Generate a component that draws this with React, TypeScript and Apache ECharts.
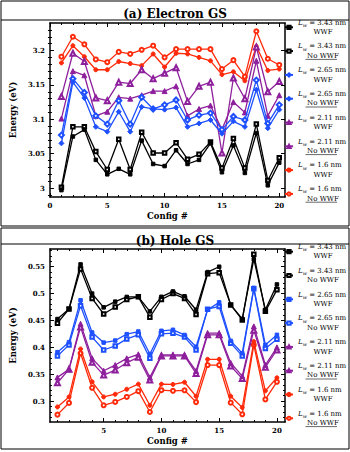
import React, { useEffect, useRef } from "react";
import * as echarts from "echarts";

const FONT = '"DejaVu Serif", serif';

const configs = [1, 2, 3, 4, 5, 6, 7, 8, 9, 10, 11, 12, 13, 14, 15, 16, 17, 18, 19, 20];

// (a) Electron GS
const e343WWF = [2.997, 3.075, 3.085, 3.041, 3.02, 3.028, 3.02, 3.069, 3.035, 3.032, 3.055, 3.035, 3.041, 3.065, 3.023, 3.062, 3.022, 3.08, 3.004, 3.037];
const e343No = [3.001, 3.089, 3.089, 3.053, 3.027, 3.071, 3.027, 3.081, 3.051, 3.051, 3.066, 3.042, 3.049, 3.067, 3.029, 3.072, 3.029, 3.093, 3.011, 3.044];
const e265WWF = [3.065, 3.154, 3.131, 3.089, 3.082, 3.111, 3.082, 3.118, 3.115, 3.114, 3.117, 3.089, 3.094, 3.099, 3.079, 3.097, 3.089, 3.143, 3.087, 3.114];
const e265No = [3.077, 3.159, 3.139, 3.105, 3.093, 3.127, 3.093, 3.132, 3.115, 3.121, 3.128, 3.099, 3.106, 3.109, 3.085, 3.104, 3.099, 3.157, 3.094, 3.121];
const e211WWF = [3.101, 3.17, 3.164, 3.105, 3.111, 3.132, 3.13, 3.135, 3.141, 3.141, 3.148, 3.105, 3.115, 3.12, 3.085, 3.125, 3.11, 3.185, 3.105, 3.135];
const e211No = [3.133, 3.196, 3.184, 3.131, 3.127, 3.154, 3.152, 3.172, 3.159, 3.167, 3.175, 3.126, 3.148, 3.154, 3.051, 3.16, 3.13, 3.205, 3.14, 3.155];
const e16WWF = [3.182, 3.207, 3.191, 3.172, 3.172, 3.184, 3.181, 3.178, 3.195, 3.176, 3.196, 3.195, 3.19, 3.185, 3.165, 3.169, 3.156, 3.206, 3.171, 3.173];
const e16No = [3.191, 3.22, 3.209, 3.187, 3.183, 3.198, 3.195, 3.201, 3.207, 3.19, 3.202, 3.202, 3.202, 3.202, 3.173, 3.186, 3.162, 3.228, 3.188, 3.179];

// (b) Hole GS
const h343WWF = [0.4526, 0.4713, 0.5543, 0.5, 0.4744, 0.485, 0.4938, 0.4938, 0.4669, 0.494, 0.504, 0.495, 0.47, 0.54, 0.55, 0.479, 0.453, 0.564, 0.47, 0.517];
const h343No = [0.445, 0.4713, 0.546, 0.491, 0.462, 0.475, 0.489, 0.494, 0.456, 0.489, 0.5, 0.491, 0.461, 0.537, 0.539, 0.479, 0.451, 0.573, 0.467, 0.507];
const h265WWF = [0.391, 0.4096, 0.4875, 0.4276, 0.4088, 0.4126, 0.4245, 0.4294, 0.3876, 0.4307, 0.4326, 0.423, 0.401, 0.47, 0.4837, 0.412, 0.389, 0.5107, 0.4045, 0.4232];
const h265No = [0.384, 0.4045, 0.4775, 0.419, 0.395, 0.4026, 0.4157, 0.4232, 0.3795, 0.4251, 0.4264, 0.419, 0.395, 0.471, 0.476, 0.4077, 0.384, 0.509, 0.398, 0.415];
const h211WWF = [0.344, 0.359, 0.4438, 0.3795, 0.3564, 0.367, 0.3795, 0.387, 0.344, 0.3858, 0.386, 0.386, 0.356, 0.4264, 0.4264, 0.371, 0.3464, 0.439, 0.367, 0.4];
const h211No = [0.334, 0.359, 0.4376, 0.372, 0.3483, 0.3577, 0.3714, 0.3814, 0.339, 0.384, 0.384, 0.384, 0.3515, 0.4232, 0.4232, 0.365, 0.342, 0.432, 0.363, 0.395];
const h16WWF = [0.289, 0.3077, 0.397, 0.3358, 0.3077, 0.3127, 0.322, 0.3315, 0.2921, 0.3315, 0.331, 0.335, 0.309, 0.3777, 0.3777, 0.309, 0.288, 0.4107, 0.319, 0.3433];
const h16No = [0.2747, 0.2965, 0.389, 0.3246, 0.2921, 0.2983, 0.3077, 0.3184, 0.2796, 0.3202, 0.319, 0.32, 0.298, 0.367, 0.367, 0.297, 0.2753, 0.4045, 0.303, 0.3358];

// axis ticks
const xMajorA = [0, 5, 10, 15, 20];
const xMajorB = [5, 10, 15, 20];
const xMinor = [1, 2, 3, 4, 6, 7, 8, 9, 11, 12, 13, 14, 16, 17, 18, 19];
const yMajorA = [3.0, 3.05, 3.1, 3.15, 3.2];
const yMinorA = [2.99, 3.01, 3.02, 3.03, 3.04, 3.06, 3.07, 3.08, 3.09, 3.11, 3.12, 3.13, 3.14, 3.16, 3.17, 3.18, 3.19, 3.21, 3.22, 3.23];
const yMajorB = [0.3, 0.35, 0.4, 0.45, 0.5, 0.55];
const yMinorB = [0.27, 0.28, 0.29, 0.31, 0.32, 0.33, 0.34, 0.36, 0.37, 0.38, 0.39, 0.41, 0.42, 0.43, 0.44, 0.46, 0.47, 0.48, 0.49, 0.51, 0.52, 0.53, 0.54, 0.56, 0.57, 0.58];

const lwLabels = ["3.43", "3.43", "2.65", "2.65", "2.11", "2.11", "1.6", "1.6"];
const wwfLabels = ["WWF", "No WWF", "WWF", "No WWF", "WWF", "No WWF", "WWF", "No WWF"];
const underlinedA = [false, true, false, true, false, true, false, true];
const underlinedB = [false, false, false, false, false, true, false, true];
const colors = ["#000000", "#000000", "#1e50ff", "#1e50ff", "#8e1f9c", "#8e1f9c", "#ff2a0a", "#ff2a0a"];
const symbolsA = ["rect", "emptyRect", "diamond", "emptyDiamond", "triangle", "emptyTriangle", "circle", "emptyCircle"];
const symbolsB = ["rect", "emptyRect", "rect", "emptyRect", "triangle", "emptyTriangle", "circle", "emptyCircle"];

const elecSets = [e343WWF, e343No, e265WWF, e265No, e211WWF, e211No, e16WWF, e16No];
const holeSets = [h343WWF, h343No, h265WWF, h265No, h211WWF, h211No, h16WWF, h16No];

const fmt = (v: number) => String(Number(v.toFixed(2)));

function axesFor(gi: number, min: number, max: number, major: number[], minor: number[], dim: "x" | "y", name: string) {
  const tickLabel = {
    color: "#000",
    fontFamily: FONT,
    fontWeight: "bold" as const,
    fontSize: 7,
  };
  const base = {
    gridIndex: gi,
    type: "value" as const,
    min,
    max,
    splitLine: { show: false },
    axisLine: { show: true, onZero: false, lineStyle: { color: "#000", width: 1.5 } },
  };
  const p1 = dim === "x" ? "bottom" : "left";
  const p2 = dim === "x" ? "top" : "right";
  return [
    {
      ...base,
      position: p1,
      axisTick: { show: true, inside: true, length: 4, customValues: major, lineStyle: { color: "#000", width: 1 } },
      axisLabel: { show: true, customValues: major, margin: 5, formatter: (v: number) => fmt(v), ...tickLabel },
      name,
      nameLocation: "middle",
      nameGap: dim === "x" ? 14 : 24,
      nameTextStyle: { color: "#000", fontFamily: FONT, fontWeight: "bold", fontSize: 8.5 },
    },
    {
      ...base,
      position: p1,
      axisLine: { show: false },
      axisTick: { show: true, inside: true, length: 2, customValues: minor, lineStyle: { color: "#000", width: 1 } },
      axisLabel: { show: false },
    },
    {
      ...base,
      position: p2,
      axisTick: { show: true, inside: true, length: 4, customValues: major, lineStyle: { color: "#000", width: 1 } },
      axisLabel: { show: false },
    },
    {
      ...base,
      position: p2,
      axisLine: { show: false },
      axisTick: { show: true, inside: true, length: 2, customValues: minor, lineStyle: { color: "#000", width: 1 } },
      axisLabel: { show: false },
    },
  ];
}

function legendText(i: number) {
  return `{i|L}{s|w} = ${lwLabels[i]} nm\n{c|${wwfLabels[i]}}`;
}

const legendRich = {
  i: { fontStyle: "italic", fontFamily: FONT, fontSize: 7, lineHeight: 9.3, color: "#000" },
  s: { fontStyle: "italic", fontFamily: FONT, fontSize: 5, lineHeight: 9.3, verticalAlign: "bottom", color: "#000" },
  c: { fontFamily: FONT, fontSize: 7, lineHeight: 9.3, width: 50, align: "center", color: "#000" },
};

function symSize(s: string) {
  const t = s.toLowerCase();
  if (t.includes("triangle")) return 5;
  if (t.includes("diamond")) return 5;
  if (t.includes("circle")) return 4;
  return 3.5;
}

const LEG_TOP_A = 18;
const LEG_TOP_B = 242.4;
const LEG_STEP = 23.8;

export default function App() {
  const ref = useRef<HTMLDivElement>(null);
  useEffect(() => {
    if (!ref.current) return;
    const chart = echarts.init(ref.current, null, { renderer: "svg" });
    const namesA = lwLabels.map((_, i) => `a${i}`);
    const namesB = lwLabels.map((_, i) => `b${i}`);
    const labelMap: Record<string, string> = {};
    namesA.forEach((n, i) => (labelMap[n] = legendText(i)));
    namesB.forEach((n, i) => (labelMap[n] = legendText(i)));

    const mkSeries = (sets: number[][], names: string[], symbols: string[], xi: number, yi: number) =>
      sets.map((vals, i) => ({
        name: names[i],
        type: "line",
        xAxisIndex: xi,
        yAxisIndex: yi,
        data: configs.map((c, k) => [c, vals[k]]),
        symbol: symbols[i],
        symbolSize: symSize(symbols[i]),
        itemStyle: { color: colors[i], borderColor: colors[i], borderWidth: 1 },
        lineStyle: { color: colors[i], width: 1.3 },
        z: 10 - i,
      }));

    const legendCommon = {
      orient: "vertical" as const,
      left: 284,
      itemWidth: 8,
      itemHeight: 4,
      itemGap: LEG_STEP - 18.6,
      padding: 0,
      formatter: (n: string) => labelMap[n],
      textStyle: { fontFamily: FONT, fontSize: 7, lineHeight: 9.3, color: "#000", rich: legendRich },
    };

    const underlines: any[] = [];
    const addUnderlines = (flags: boolean[], top: number) =>
      flags.forEach((f, k) => {
        if (!f) return;
        const y = top + 9.3 + k * LEG_STEP + 8.3;
        underlines.push({ type: "line", shape: { x1: 305.5, y1: y, x2: 337, y2: y }, style: { stroke: "#000", lineWidth: 0.6 } });
      });
    addUnderlines(underlinedA, LEG_TOP_A);
    addUnderlines(underlinedB, LEG_TOP_B);

    chart.setOption({
      animation: false,
      backgroundColor: "#fff",
      title: [
        { text: "(a) Electron GS", left: "center", top: 3, textStyle: { fontFamily: FONT, fontWeight: "bold", fontSize: 12, color: "#000" } },
        { text: "(b) Hole GS", left: "center", top: 230, textStyle: { fontFamily: FONT, fontWeight: "bold", fontSize: 12, color: "#000" } },
      ],
      grid: [
        { left: 38, top: 23, width: 247, height: 174 },
        { left: 38, top: 249, width: 247, height: 173 },
      ],
      xAxis: [
        ...axesFor(0, 0, 20.5, xMajorA, xMinor, "x", "Config #"),
        ...axesFor(1, 0.35, 20.7, xMajorB, xMinor, "x", "Config #"),
      ],
      yAxis: [
        ...axesFor(0, 2.987, 3.24, yMajorA, yMinorA, "y", "Energy (eV)"),
        ...axesFor(1, 0.261, 0.583, yMajorB, yMinorB, "y", "Energy (eV)"),
      ],
      legend: [
        { ...legendCommon, data: namesA, top: LEG_TOP_A },
        { ...legendCommon, data: namesB, top: LEG_TOP_B },
      ],
      graphic: [
        { type: "rect", shape: { x: 1, y: 1, width: 348, height: 225 }, style: { fill: "none", stroke: "#000", lineWidth: 1 } },
        { type: "line", shape: { x1: 1, y1: 20, x2: 349, y2: 20 }, style: { stroke: "#000", lineWidth: 1 } },
        { type: "rect", shape: { x: 1, y: 228, width: 348, height: 221 }, style: { fill: "none", stroke: "#000", lineWidth: 1 } },
        { type: "line", shape: { x1: 1, y1: 244, x2: 349, y2: 244 }, style: { stroke: "#000", lineWidth: 1 } },
        ...underlines,
      ],
      series: [
        ...mkSeries(elecSets, namesA, symbolsA, 0, 0),
        ...mkSeries(holeSets, namesB, symbolsB, 4, 4),
      ],
    });
    return () => chart.dispose();
  }, []);
  return <div ref={ref} style={{ position: "fixed", left: 0, top: 0, width: 350, height: 452 }} />;
}
